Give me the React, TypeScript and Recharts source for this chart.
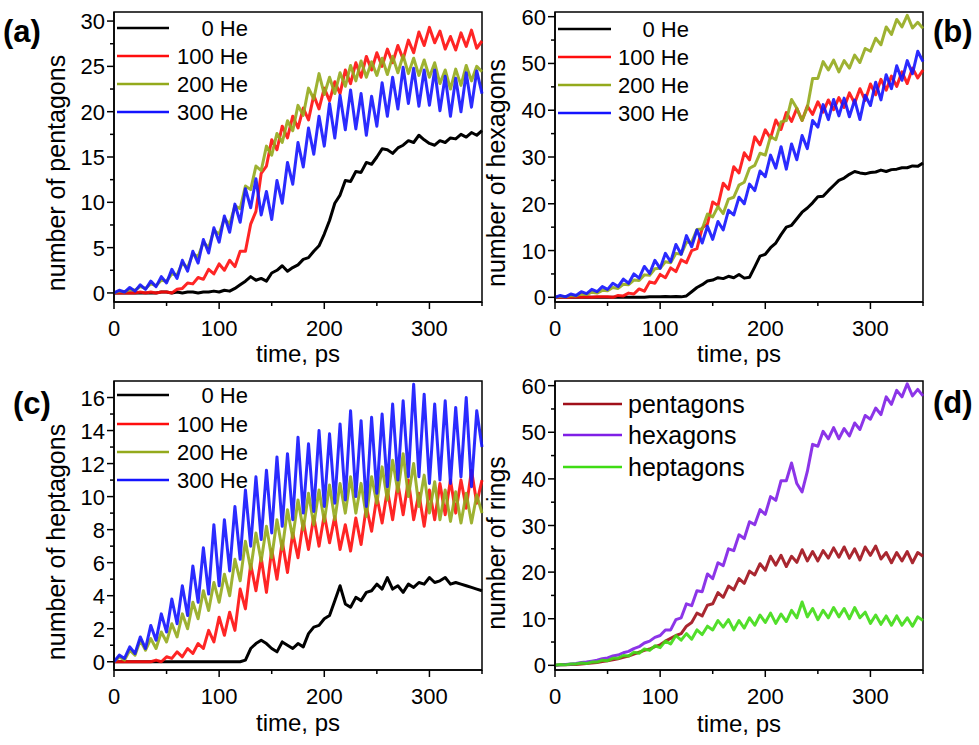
import React from 'react';
import { LineChart, Line, XAxis, YAxis, ReferenceArea } from 'recharts';

const FONT = '"Liberation Sans", Arial, sans-serif';

// time axis, ps
const TIME = [
  0, 5, 10, 15, 20, 25, 30, 35, 40, 45,
  50, 55, 60, 65, 70, 75, 80, 85, 90, 95,
  100, 105, 110, 115, 120, 125, 130, 135, 140, 145,
  150, 155, 160, 165, 170, 175, 180, 185, 190, 195,
  200, 205, 210, 215, 220, 225, 230, 235, 240, 245,
  250, 255, 260, 265, 270, 275, 280, 285, 290, 295,
  300, 305, 310, 315, 320, 325, 330, 335, 340, 345, 350,
];

const X_TICKS = [0, 50, 100, 150, 200, 250, 300, 350];
const X_LABELS = [0, 100, 200, 300];

// (a) pentagons
const PENT_0 = [
  0, 0, 0, 0, 0, 0, 0, 0, 0, 0.1,
  0.1, 0, 0.1, 0, 0.1, 0.1, 0, 0.1, 0.1, 0.2,
  0.1, 0.3, 0.2, 0.5, 0.9, 1.3, 1.8, 1.4, 1.6, 1.3,
  2.2, 2.5, 3.0, 2.4, 2.8, 3.1, 3.7, 3.9, 4.6, 5.2,
  6.5, 8.0, 9.9, 10.8, 12.4, 12.3, 13.4, 13.3, 14.4, 14.2,
  15.0, 15.9, 15.8, 15.4, 16.0, 16.3, 16.8, 16.6, 17.4, 16.9,
  16.5, 16.3, 16.8, 16.6, 17.1, 17.0, 17.5, 17.2, 17.7, 17.4, 17.9,
];
const PENT_100 = [
  0, 0, 0, 0, 0, 0.1, 0, 0.1, 0, 0.1,
  0.1, 0, 0.4, 0.5, 1.1, 1.0, 1.7, 1.5, 2.6, 2.1,
  3.2, 2.5, 3.6, 2.9, 4.6, 4.6, 7.6, 9.0, 13.2, 14.0,
  16.9, 15.8, 18.4, 17.1, 19.5, 18.2, 20.4, 19.1, 21.8, 20.3,
  22.6, 21.2, 23.3, 22.0, 24.6, 23.1, 25.4, 23.8, 26.1, 24.6,
  26.5, 25.0, 26.9, 25.4, 27.3, 25.8, 27.9, 26.5, 28.8, 27.3,
  29.3, 27.6, 28.9, 26.9, 28.3, 26.8, 28.7, 27.2, 29.0, 27.0, 27.8,
];
const PENT_200 = [
  0, 0.2, 0.1, 0.4, 0.3, 0.7, 0.5, 1.0, 0.8, 1.4,
  1.3, 2.1, 2.0, 3.3, 2.8, 4.3, 4.0, 5.6, 5.0, 6.9,
  6.5, 8.2, 7.6, 9.6, 9.3, 11.8, 11.4, 14.0, 13.5, 16.2,
  15.2, 17.6, 16.6, 19.0, 17.9, 20.7, 19.6, 22.6, 21.4, 24.2,
  21.9, 23.8, 22.0, 24.3, 22.8, 25.1, 23.4, 25.6, 23.8, 25.5,
  24.0, 25.9, 24.1, 26.1, 24.3, 26.2, 24.2, 25.9, 24.0, 25.7,
  23.8, 25.4, 23.1, 24.6, 22.5, 24.7, 22.9, 25.1, 23.4, 25.0, 24.4,
];
const PENT_300 = [
  0, 0.3, 0.1, 0.6, 0.2, 0.9, 0.4, 1.3, 0.7, 1.8,
  1.1, 2.6, 1.6, 3.6, 2.4, 4.6, 3.3, 5.9, 4.4, 7.2,
  5.6, 8.5, 6.7, 9.8, 7.8, 11.5, 9.4, 12.6, 8.6, 11.2,
  8.1, 12.4, 9.9, 14.4, 12.0, 16.6, 13.9, 18.2, 15.3, 19.5,
  16.2, 20.9, 17.1, 21.8, 18.0, 22.4, 18.1, 22.0, 17.4, 21.7,
  18.4, 23.2, 19.5, 23.8, 20.3, 24.9, 20.9, 24.8, 20.6, 24.6,
  20.7, 24.6, 20.1, 23.9, 19.5, 23.7, 20.0, 24.3, 20.5, 24.5, 22.0,
];

// (b) hexagons
const HEX_0 = [
  0, 0, 0, 0, 0, 0, 0, 0, 0, 0,
  0, 0, 0, 0, 0, 0, 0, 0, 0.1, 0.1,
  0.1, 0.2, 0.1, 0.2, 0.1, 0.3, 1.2, 2.1, 2.7, 3.5,
  3.7, 4.2, 4.0, 4.5, 4.2, 4.9, 4.1, 4.3, 6.5, 8.8,
  9.2, 10.6, 11.6, 13.4, 15.0, 15.4, 16.8, 18.2, 19.1, 20.2,
  21.5, 21.6, 22.8, 23.9, 25.0, 25.5, 26.3, 26.9, 26.6, 26.4,
  26.7, 26.8, 27.2, 26.9, 27.3, 27.4, 27.7, 27.7, 28.1, 28.0, 28.7,
];
const HEX_100 = [
  0, 0, 0, 0, 0.1, 0, 0.1, 0, 0.1, 0.1,
  0.1, 0, 0.4, 0.3, 0.9, 0.7, 1.8, 1.3, 3.3, 3.0,
  4.9, 4.2, 6.3, 5.5, 8.0, 7.4, 10.0, 10.4, 14.8, 15.7,
  20.4, 19.6, 24.4, 23.1, 27.9, 26.6, 30.9, 29.4, 34.3, 32.6,
  35.8, 34.0, 37.9, 35.9, 39.5, 37.6, 40.4, 37.8, 40.9, 39.1,
  41.8, 39.6, 42.2, 40.1, 42.7, 40.6, 43.7, 41.5, 44.6, 42.1,
  45.6, 43.3, 46.6, 44.3, 47.3, 45.1, 48.2, 45.7, 49.0, 46.9, 48.6,
];
const HEX_200 = [
  0, 0.2, 0.1, 0.4, 0.3, 0.7, 0.6, 1.1, 0.9, 1.5,
  1.4, 2.1, 1.9, 2.8, 2.7, 3.7, 3.6, 4.8, 4.7, 6.1,
  6.2, 7.6, 7.4, 9.4, 9.2, 11.8, 11.8, 14.5, 14.6, 17.8,
  17.2, 19.4, 17.9, 21.0, 21.4, 24.0, 24.6, 27.6, 28.2, 30.8,
  30.4, 34.4, 33.7, 37.5, 37.8, 42.3, 40.4, 37.8, 40.6, 46.8,
  46.8, 50.4, 48.6, 50.7, 48.2, 50.6, 49.0, 51.8, 50.2, 53.2,
  52.6, 55.4, 54.0, 57.8, 56.2, 59.4, 57.8, 60.3, 57.6, 58.8, 57.5,
];
const HEX_300 = [
  0, 0.4, 0.1, 0.7, 0.4, 1.2, 0.8, 1.7, 1.2, 2.3,
  1.7, 3.0, 2.3, 3.9, 3.0, 5.0, 4.1, 6.6, 5.1, 7.9,
  6.2, 9.4, 7.6, 11.3, 9.2, 13.2, 10.8, 14.4, 11.6, 15.2,
  12.4, 16.2, 14.4, 18.6, 17.6, 21.4, 20.0, 24.2, 22.8, 27.0,
  25.8, 30.4, 27.6, 32.2, 27.4, 32.8, 29.4, 34.6, 31.8, 37.8,
  36.4, 41.2, 38.0, 42.3, 38.8, 42.6, 38.6, 42.2, 38.0, 43.2,
  41.0, 46.0, 42.2, 47.6, 44.6, 49.5, 46.4, 50.6, 47.8, 52.6, 50.4,
];

// (c) heptagons
const HEPT_0 = [
  0, 0, 0, 0, 0, 0, 0, 0, 0, 0,
  0, 0, 0, 0, 0, 0, 0, 0, 0, 0,
  0, 0, 0, 0, 0, 0.1, 0.8, 1.1, 1.3, 1.1,
  0.8, 0.6, 1.2, 1.0, 0.8, 1.1, 0.9, 1.7, 2.1, 2.2,
  2.6, 2.8, 3.7, 4.6, 3.5, 3.3, 3.9, 3.7, 4.2, 4.3,
  4.7, 4.4, 5.1, 4.4, 4.6, 4.2, 4.7, 4.5, 4.8, 4.7,
  5.1, 4.8, 4.9, 5.1, 4.7, 4.8, 4.7, 4.6, 4.5, 4.4, 4.3,
];
const HEPT_100 = [
  0, 0, 0, 0, 0, 0, 0, 0, 0.1, 0,
  0.3, 0.2, 0.6, 0.3, 0.8, 0.5, 1.1, 0.8, 1.9, 1.2,
  2.7, 1.6, 3.0, 1.9, 4.4, 3.2, 5.9, 4.3, 6.3, 4.2,
  6.8, 5.0, 7.3, 5.4, 7.8, 6.3, 8.5, 6.8, 8.8, 7.0,
  8.9, 7.2, 8.8, 6.8, 8.3, 6.7, 8.7, 7.1, 9.4, 7.9,
  10.0, 8.4, 10.4, 8.6, 10.8, 8.9, 11.0, 8.6, 10.2, 8.2,
  10.4, 8.6, 10.8, 8.9, 11.0, 9.0, 11.0, 9.3, 11.6, 9.6, 11.0,
];
const HEPT_200 = [
  0, 0.3, 0.1, 0.7, 0.4, 1.3, 0.7, 1.4, 0.8, 1.8,
  1.2, 2.3, 1.5, 2.9, 2.0, 3.6, 2.6, 4.3, 3.1, 4.8,
  3.6, 5.3, 4.0, 6.2, 4.9, 7.3, 5.6, 7.8, 6.1, 8.2,
  6.3, 8.6, 6.8, 9.2, 7.5, 9.8, 8.0, 10.2, 8.3, 10.4,
  8.5, 10.7, 8.6, 10.8, 9.0, 11.2, 9.0, 10.8, 8.8, 11.2,
  9.6, 11.8, 9.8, 12.2, 10.3, 12.6, 10.0, 12.0, 9.4, 11.3,
  9.0, 10.9, 8.6, 10.4, 8.5, 10.3, 8.4, 10.2, 8.4, 10.1, 9.0,
];
const HEPT_300 = [
  0, 0.4, 0.2, 0.9, 0.5, 1.5, 0.8, 2.2, 1.3, 2.9,
  1.8, 3.8, 2.3, 4.6, 2.8, 5.8, 3.6, 6.9, 4.1, 8.3,
  4.6, 8.6, 5.5, 9.4, 6.2, 10.4, 7.0, 11.2, 7.4, 11.6,
  7.8, 12.4, 8.2, 12.6, 8.6, 13.6, 9.0, 13.2, 9.1, 14.0,
  9.4, 13.8, 9.6, 14.4, 9.8, 15.2, 10.0, 14.6, 9.4, 14.8,
  10.2, 15.0, 10.6, 15.6, 11.0, 15.8, 11.2, 16.8, 11.2, 16.2,
  10.8, 15.6, 11.0, 15.8, 10.8, 15.4, 11.2, 16.0, 10.6, 15.2, 13.0,
];

// (d) rings at 200 He
const RING_PENT = [
  0, 0.1, 0.1, 0.2, 0.2, 0.3, 0.4, 0.5, 0.6, 0.8,
  1.0, 1.2, 1.4, 1.7, 2.0, 2.4, 2.8, 3.2, 3.5, 4.0,
  4.4, 5.2, 5.8, 6.4, 6.8, 8.4, 9.2, 11.2, 10.6, 12.9,
  13.2, 15.6, 14.6, 17.0, 16.2, 18.6, 17.6, 20.2, 19.4, 21.8,
  20.4, 23.4, 21.5, 23.6, 21.2, 23.4, 22.1, 24.8, 22.4, 24.4,
  22.4, 24.6, 23.0, 25.2, 23.2, 25.4, 23.0, 25.0, 22.6, 25.4,
  23.6, 25.6, 22.8, 24.2, 22.0, 24.2, 22.4, 24.4, 22.0, 24.2, 23.4,
];
const RING_HEX = [
  0, 0.1, 0.2, 0.3, 0.4, 0.6, 0.7, 0.9, 1.1, 1.4,
  1.6, 2.0, 2.2, 2.7, 3.0, 3.6, 4.0, 4.8, 5.2, 6.0,
  6.4, 7.6, 7.6, 9.8, 10.2, 13.2, 12.8, 16.0, 15.8, 19.6,
  18.6, 22.0, 21.4, 25.0, 24.6, 28.0, 27.2, 30.8, 30.2, 33.4,
  32.4, 36.2, 35.4, 39.6, 39.6, 43.4, 39.0, 37.2, 41.6, 47.4,
  47.0, 50.2, 48.6, 51.0, 48.6, 50.8, 49.2, 52.0, 50.6, 53.6,
  52.8, 55.2, 53.8, 57.6, 56.0, 59.0, 57.6, 60.4, 57.8, 59.2, 57.8,
];
const RING_HEPT = [
  0, 0.2, 0.1, 0.3, 0.3, 0.5, 0.4, 0.7, 0.7, 1.1,
  1.0, 1.5, 1.5, 2.1, 2.0, 2.8, 2.6, 3.5, 3.2, 4.2,
  3.8, 5.2, 4.6, 6.4, 5.4, 6.8, 5.6, 7.6, 6.6, 8.4,
  7.6, 9.6, 8.2, 9.8, 7.6, 9.6, 8.0, 10.2, 8.6, 10.8,
  9.2, 11.2, 9.0, 11.0, 9.4, 11.8, 10.2, 13.6, 10.4, 12.2,
  9.8, 11.8, 10.2, 12.4, 10.4, 12.2, 10.0, 12.4, 10.2, 11.4,
  9.0, 10.8, 8.8, 10.6, 8.6, 10.6, 8.6, 10.2, 8.4, 10.4, 9.6,
];

const HE_NAMES = ['0 He', '100 He', '200 He', '300 He'];
const HE_COLORS = ['#000000', '#ff0d0d', '#94aa1c', '#1414ff'];
const RING_NAMES = ['pentagons', 'hexagons', 'heptagons'];
const RING_COLORS = ['#a0101a', '#7f1fe6', '#3fdc14'];

const Y_TICKS_60 = [0, 5, 10, 15, 20, 25, 30, 35, 40, 45, 50, 55, 60];
const Y_LABELS_60 = [0, 10, 20, 30, 40, 50, 60];
const Y_TICKS_30 = [0, 2.5, 5, 7.5, 10, 12.5, 15, 17.5, 20, 22.5, 25, 27.5, 30];
const Y_LABELS_30 = [0, 5, 10, 15, 20, 25, 30];
const Y_TICKS_16 = [0, 1, 2, 3, 4, 5, 6, 7, 8, 9, 10, 11, 12, 13, 14, 15, 16];
const Y_LABELS_16 = [0, 2, 4, 6, 8, 10, 12, 14, 16];

type PanelDef = {
  id: string;
  left: number;
  top: number;
  width: number;
  height: number;
  margin: { top: number; right: number; bottom: number; left: number };
  yDomain: [number, number];
  yTicks: number[];
  yLabels: number[];
  series: number[][];
  names: string[];
  colors: string[];
};

const PANELS: PanelDef[] = [
  {
    id: 'a', left: 0, top: 0, width: 490, height: 372,
    margin: { top: 12, right: 8, bottom: 40, left: 54 },
    yDomain: [-1, 31], yTicks: Y_TICKS_30, yLabels: Y_LABELS_30,
    series: [PENT_0, PENT_100, PENT_200, PENT_300], names: HE_NAMES, colors: HE_COLORS,
  },
  {
    id: 'b', left: 490, top: 0, width: 489, height: 372,
    margin: { top: 12, right: 56, bottom: 40, left: 5 },
    yDomain: [-1, 61], yTicks: Y_TICKS_60, yLabels: Y_LABELS_60,
    series: [HEX_0, HEX_100, HEX_200, HEX_300], names: HE_NAMES, colors: HE_COLORS,
  },
  {
    id: 'c', left: 0, top: 372, width: 490, height: 373,
    margin: { top: 9, right: 8, bottom: 45, left: 54 },
    yDomain: [-0.5, 17], yTicks: Y_TICKS_16, yLabels: Y_LABELS_16,
    series: [HEPT_0, HEPT_100, HEPT_200, HEPT_300], names: HE_NAMES, colors: HE_COLORS,
  },
  {
    id: 'd', left: 490, top: 372, width: 489, height: 373,
    margin: { top: 9, right: 56, bottom: 45, left: 5 },
    yDomain: [-1, 61], yTicks: Y_TICKS_60, yLabels: Y_LABELS_60,
    series: [RING_PENT, RING_HEX, RING_HEPT], names: RING_NAMES, colors: RING_COLORS,
  },
];

const XTick = (props: any) => {
  const { x, y, payload } = props;
  const v = payload.value;
  const major = X_LABELS.includes(v);
  return (
    <g>
      <line x1={x} y1={y} x2={x} y2={y + (major ? 7 : 4)} stroke="#000" strokeWidth={1.5} />
      {major && (
        <text x={x} y={y + 34} textAnchor="middle" fontSize={22} fontFamily={FONT} fill="#000">
          {v}
        </text>
      )}
    </g>
  );
};

const makeYTick = (labels: number[]) => (props: any) => {
  const { x, y, payload } = props;
  const v = payload.value;
  const major = labels.includes(v);
  return (
    <g>
      <line x1={x - (major ? 7 : 4)} y1={y} x2={x} y2={y} stroke="#000" strokeWidth={1.5} />
      {major && (
        <text x={x - 9} y={y + 8} textAnchor="end" fontSize={22} fontFamily={FONT} fill="#000">
          {v}
        </text>
      )}
    </g>
  );
};

function Panel({ p }: { p: PanelDef }) {
  const data = TIME.map((t, i) => {
    const row: Record<string, number> = { t };
    p.series.forEach((s, k) => {
      row['s' + k] = s[i];
    });
    return row;
  });
  return (
    <div style={{ position: 'absolute', left: p.left, top: p.top }}>
      <LineChart width={p.width} height={p.height} data={data} margin={p.margin}>
        <XAxis
          dataKey="t"
          type="number"
          domain={[0, 350]}
          ticks={X_TICKS}
          interval={0}
          height={30}
          tickSize={0}
          tickMargin={0}
          tickLine={false}
          axisLine={{ stroke: '#000', strokeWidth: 1.5 }}
          tick={<XTick />}
        />
        <YAxis
          type="number"
          domain={p.yDomain}
          allowDataOverflow
          ticks={p.yTicks}
          interval={0}
          width={60}
          tickSize={0}
          tickMargin={0}
          tickLine={false}
          axisLine={{ stroke: '#000', strokeWidth: 1.5 }}
          tick={makeYTick(p.yLabels)}
        />
        <ReferenceArea
          x1={0}
          x2={350}
          y1={p.yDomain[0]}
          y2={p.yDomain[1]}
          fill="none"
          fillOpacity={0}
          stroke="#000"
          strokeWidth={1.5}
        />
        {p.series.map((_, k) => (
          <Line
            key={k}
            dataKey={'s' + k}
            name={p.names[k]}
            stroke={p.colors[k]}
            strokeWidth={3}
            strokeOpacity={p.colors[k] === '#000000' ? 1 : 0.9}
            strokeLinejoin="round"
            dot={false}
            activeDot={false}
            type="linear"
            isAnimationActive={false}
          />
        ))}
      </LineChart>
    </div>
  );
}

type Txt = { x: number; y: number; text: string };

const Y_TITLES: Txt[] = [
  { x: 65, y: 173, text: 'number of pentagons' },
  { x: 505, y: 173, text: 'number of hexagons' },
  { x: 65, y: 542, text: 'number of heptagons' },
  { x: 505, y: 543, text: 'number of rings' },
];
const X_TITLES: Txt[] = [
  { x: 298, y: 362, text: 'time, ps' },
  { x: 739, y: 362, text: 'time, ps' },
  { x: 298, y: 731, text: 'time, ps' },
  { x: 739, y: 732, text: 'time, ps' },
];
const LETTERS: Txt[] = [
  { x: 3, y: 42, text: '(a)' },
  { x: 933, y: 42, text: '(b)' },
  { x: 13, y: 414, text: '(c)' },
  { x: 933, y: 413, text: '(d)' },
];

type LegendDef = {
  x1: number;
  x2: number;
  tx: number;
  anchor: 'start' | 'end';
  rows: number[];
  size: number;
  names: string[];
  colors: string[];
};
const LEGENDS: LegendDef[] = [
  { x1: 117, x2: 169, tx: 248, anchor: 'end', rows: [28, 56, 84, 112], size: 22, names: HE_NAMES, colors: HE_COLORS },
  { x1: 558, x2: 611, tx: 689, anchor: 'end', rows: [29, 57, 85, 113], size: 22, names: HE_NAMES, colors: HE_COLORS },
  { x1: 117, x2: 169, tx: 248, anchor: 'end', rows: [395, 424, 452, 480], size: 22, names: HE_NAMES, colors: HE_COLORS },
  { x1: 563, x2: 622, tx: 628, anchor: 'start', rows: [404, 435, 467], size: 25, names: RING_NAMES, colors: RING_COLORS },
];

export default function App() {
  return (
    <div style={{ position: 'absolute', left: 0, top: 0, width: 979, height: 745, background: '#fff', overflow: 'hidden' }}>
      {PANELS.map((p) => (
        <Panel key={p.id} p={p} />
      ))}
      <svg
        width={979}
        height={745}
        style={{ position: 'absolute', left: 0, top: 0, pointerEvents: 'none' }}
        fontFamily={FONT}
      >
        {Y_TITLES.map((t, i) => (
          <text
            key={'yt' + i}
            x={t.x}
            y={t.y}
            transform={`rotate(-90 ${t.x} ${t.y})`}
            textAnchor="middle"
            fontSize={25}
            fill="#000"
          >
            {t.text}
          </text>
        ))}
        {X_TITLES.map((t, i) => (
          <text key={'xt' + i} x={t.x} y={t.y} textAnchor="middle" fontSize={24} fill="#000">
            {t.text}
          </text>
        ))}
        {LETTERS.map((t, i) => (
          <text key={'l' + i} x={t.x} y={t.y} fontSize={31} fontWeight="bold" fill="#000">
            {t.text}
          </text>
        ))}
        {LEGENDS.map((lg, i) => (
          <g key={'lg' + i}>
            {lg.names.map((n, k) => (
              <g key={k}>
                <line x1={lg.x1} x2={lg.x2} y1={lg.rows[k]} y2={lg.rows[k]} stroke={lg.colors[k]} strokeWidth={2.5} />
                <text x={lg.tx} y={lg.rows[k] + lg.size * 0.36} textAnchor={lg.anchor} fontSize={lg.size} fill="#000">
                  {n}
                </text>
              </g>
            ))}
          </g>
        ))}
      </svg>
    </div>
  );
}
